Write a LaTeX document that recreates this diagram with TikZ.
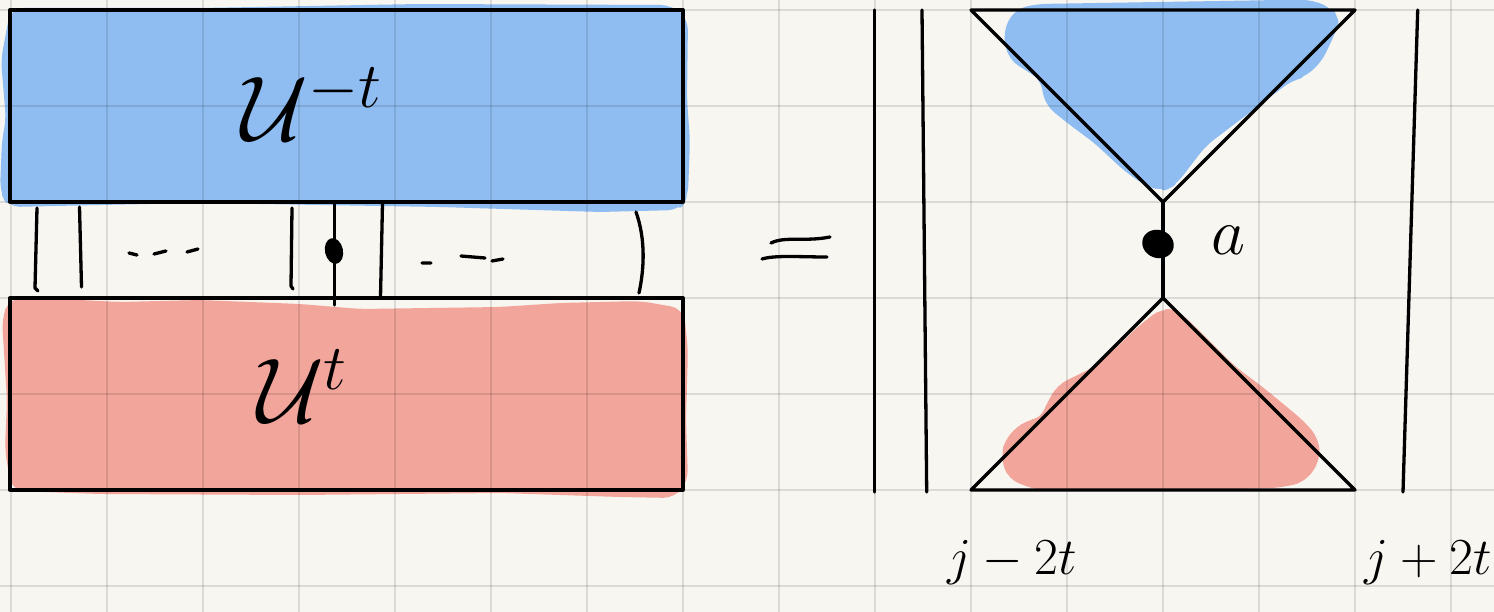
\documentclass[tikz,border=0pt]{standalone}
\usepackage{fix-cm}
\definecolor{paper}{HTML}{F8F6F1}
\definecolor{bluefill}{HTML}{8FBDF2}
\definecolor{redfill}{HTML}{F2A69B}
\tikzset{
  ink/.style={line width=3.3pt, line cap=round, line join=round, black},
  gridline/.style={line width=2pt, black, opacity=0.11},
  blueblob/.style={fill=bluefill, draw=bluefill, line width=8pt, line join=round, rounded corners=10pt},
  redblob/.style={fill=redfill, draw=redfill, line width=8pt, line join=round, rounded corners=10pt},
  box/.style={ink, draw, inner sep=0pt, fill=none},
  biglabel/.style={inner sep=0pt, font=\fontsize{92}{92}\selectfont},
  idxlabel/.style={inner sep=0pt, font=\fontsize{52}{52}\selectfont},
}
\begin{document}
\begin{tikzpicture}[x=1pt,y=-1pt]
\useasboundingbox (0,0) rectangle (1494,612);
\fill[paper] (0,0) rectangle (1494,612);

% colour blobs
\filldraw[blueblob] (14,12) -- (200,12) -- (420,8) -- (670,9) -- (684,20) -- (683,100) -- (686,140) -- (684,195) -- (678,206) -- (600,208) -- (440,203) -- (200,199) -- (100,201) -- (10,203) -- (4,190) -- (6,140) -- (10,120) -- (5,60) -- cycle;
\filldraw[redblob] (12,302) -- (40,302) -- (120,306) -- (200,304) -- (300,308) -- (360,313) -- (500,311) -- (560,307) -- (640,305) -- (680,312) -- (684,350) -- (682,420) -- (684,480) -- (673,494) -- (620,493) -- (500,489) -- (300,491) -- (100,490) -- (15,487) -- (9,450) -- (11,400) -- (6,320) -- cycle;
\filldraw[blueblob] (1007,33) -- (1017,13) -- (1037,8) -- (1280,4) -- (1313,4) -- (1331,13) -- (1335,23) -- (1329,37) -- (1318,60) -- (1302,74) -- (1290,77) -- (1203,143) -- (1173,182) -- (1163,187) -- (1147,182) -- (1127,168) -- (1097,140) -- (1070,120) -- (1049,103) -- (1044,78) -- (1036,72) -- (1012,57) -- cycle;
\filldraw[redblob] (1163,312) -- (1177,315) -- (1193,330) -- (1233,370) -- (1260,390) -- (1300,423) -- (1315,440) -- (1316,460) -- (1302,479) -- (1277,484) -- (1160,487) -- (1037,486) -- (1011,476) -- (1005,457) -- (1009,440) -- (1027,424) -- (1043,422) -- (1048,410) -- (1060,388) -- (1097,370) -- (1123,347) -- (1140,330) -- cycle;

% grid
\foreach \k in {0,...,15} \draw[gridline] ({10.7+96.02*\k},0) -- ({10.7+96.02*\k},612);
\foreach \k in {0,...,6} \draw[gridline] (0,{10+96*\k}) -- (1494,{10+96*\k});

% left boxes
\node[box, minimum width=673pt, minimum height=192pt] (top) at (346.5,106) {};
\node[box, minimum width=673pt, minimum height=192pt] (bot) at (346.5,394) {};
\node[biglabel] (ulab) at (312,104) {$\mathcal{U}^{-t}$};
\node[biglabel] (dlab) at (302,386) {$\mathcal{U}^{t}$};

% wires between the boxes
\coordinate (w1a) at (37,208); \coordinate (w1b) at (35,288); \coordinate (w1c) at (38,291);
\draw[ink] (w1a) -- (w1b) -- (w1c);
\coordinate (w2a) at (79.5,207); \coordinate (w2b) at (81.5,287);
\draw[ink] (w2a) -- (w2b);
\coordinate (d1a) at (129,253); \coordinate (d1b) at (137,255);
\coordinate (d2a) at (154,254); \coordinate (d2b) at (166,251);
\coordinate (d3a) at (187,252); \coordinate (d3b) at (198,249);
\draw[ink] (d1a) -- (d1b) (d2a) -- (d2b) (d3a) -- (d3b);
\coordinate (w3a) at (292,208); \coordinate (w3b) at (291,286); \coordinate (w3c) at (293,289);
\draw[ink] (w3a) -- (w3b) -- (w3c);
\coordinate (w4a) at (334.5,202); \coordinate (w4b) at (334.5,305);
\draw[ink] (w4a) -- (w4b);
\fill[black, rotate around={12:(334,251)}] (334,251) ellipse (9pt and 13pt);
\coordinate (w5a) at (382.5,203); \coordinate (w5b) at (380.5,297);
\draw[ink] (w5a) -- (w5b);
\coordinate (e1a) at (422,263); \coordinate (e1b) at (431,263);
\coordinate (e2a) at (461,256); \coordinate (e2b) at (485,258);
\coordinate (e3a) at (492,261); \coordinate (e3b) at (503,259);
\draw[ink] (e1a) -- (e1b) (e2a) -- (e2b) (e3a) -- (e3b);
\coordinate (w6a) at (636,212); \coordinate (w6b) at (639,293);
\draw[ink] (w6a) .. controls (646,240) and (644,270) .. (w6b);

% equals sign
\coordinate (q1a) at (771,243); \coordinate (q1b) at (830,237);
\coordinate (q2a) at (762,259); \coordinate (q2b) at (827,257);
\draw[ink] (q1a) .. controls (785,236) and (805,242) .. (q1b);
\draw[ink] (q2a) .. controls (775,255) and (800,257) .. (q2b);

% right side
\coordinate (r1a) at (874.3,10); \coordinate (r1b) at (874.3,492);
\coordinate (r2a) at (922,10); \coordinate (r2b) at (926.7,492);
\coordinate (r3a) at (1417.7,10); \coordinate (r3b) at (1403,492);
\draw[ink] (r1a) -- (r1b);
\draw[ink] (r2a) -- (r2b);
\draw[ink] (r3a) -- (r3b);
\coordinate (tl) at (971,10); \coordinate (tr) at (1355,10); \coordinate (ta) at (1163,202);
\coordinate (ba) at (1163,298); \coordinate (bl) at (971,490); \coordinate (br) at (1355,490);
\draw[ink] (tl) -- (tr) -- (ta) -- cycle;
\draw[ink] (ta) -- (ba);
\draw[ink] (ba) -- (br) -- (bl) -- cycle;
\fill[black, rotate around={-20:(1158,244)}] (1158,244) ellipse (16pt and 14pt);
\node[inner sep=0pt, font=\fontsize{66}{66}\selectfont] (alab) at (1228,240) {$a$};
\node[idxlabel] (jm) at (1012,563) {$j-2t$};
\node[idxlabel] (jp) at (1428,563) {$j+2t$};
\end{tikzpicture}
\end{document}
